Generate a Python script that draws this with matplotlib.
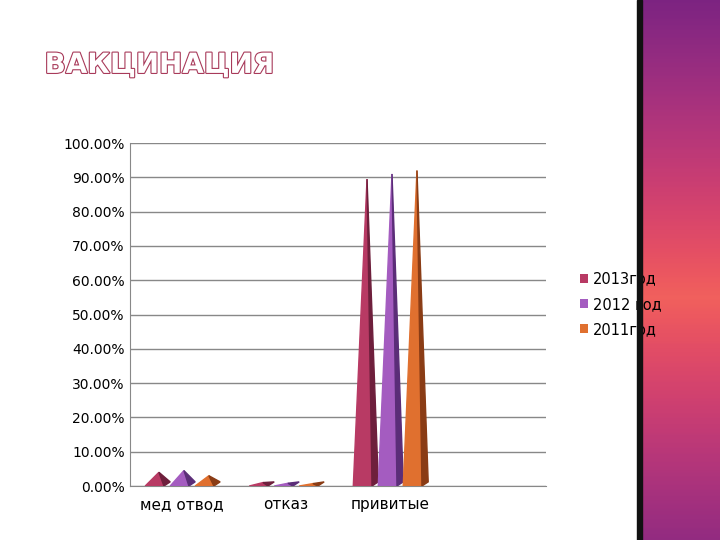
import matplotlib.pyplot as plt
from matplotlib.patches import Polygon, Rectangle
import matplotlib.patheffects as pe
import numpy as np

categories = ['мед отвод', 'отказ', 'привитые']
series = ['2013год', '2012 год', '2011год']
values = {
    '2013год': [4.0, 1.0, 89.5],
    '2012 год': [4.5, 0.8, 91.0],
    '2011год': [3.0, 0.7, 92.0],
}
colors = ['#b83a64', '#a45cc0', '#e0702f']
dark = ['#6e1f3c', '#5b2d78', '#8a3c15']

fig = plt.figure(figsize=(7.2, 5.4), dpi=100)
fig.patch.set_facecolor('white')
# purple side strip with a vertical gradient
grad = np.linspace(0, 1, 256).reshape(-1, 1)
sax = fig.add_axes([0.892, 0, 0.108, 1])
sax.imshow(np.abs(grad - 0.55), aspect='auto', cmap='magma_r', vmin=-0.6, vmax=1.2)
sax.axis('off')
fig.add_artist(Rectangle((0.885, 0), 0.007, 1, transform=fig.transFigure,
                         color='#111111'))
fig.text(0.062, 0.865, 'ВАКЦИНАЦИЯ', fontsize=20, fontweight='bold',
         color='white', family='DejaVu Sans',
         path_effects=[pe.withStroke(linewidth=1.6, foreground='#a83a5a')])

ax = fig.add_axes([0.18, 0.1, 0.578, 0.635])
ax.set_xlim(0, 4)
ax.set_ylim(0, 100)
ax.set_yticks(range(0, 101, 10))
ax.set_yticklabels([f'{v:.2f}%' for v in range(0, 101, 10)], fontsize=10)
ax.yaxis.grid(True, color='#888888', lw=1)
ax.set_axisbelow(True)
ax.set_xticks([0.5, 1.5, 2.5])
ax.set_xticklabels(categories, fontsize=11)
ax.tick_params(axis='x', length=0, pad=8)
ax.tick_params(axis='y', length=0)
for s in ['top', 'right']:
    ax.spines[s].set_visible(False)
ax.spines['left'].set_color('#888888')
ax.spines['bottom'].set_color('#888888')

w = 0.24
for ci in range(len(categories)):
    for si, name in enumerate(series):
        v = values[name][ci]
        x0 = ci + 0.15 + si * w
        tip = x0 + w * 0.55
        ax.add_patch(Polygon([(x0, 0), (tip, v), (x0 + w * 0.75, 0)],
                             closed=True, color=colors[si], zorder=3))
        ax.add_patch(Polygon([(x0 + w * 0.75, 0), (tip, v), (x0 + w, 1.2)],
                             closed=True, color=dark[si], zorder=3))
        ax.bar(0, 0, color=colors[si], label=name)

h, l = ax.get_legend_handles_labels()
ax.legend(h[:3], l[:3], loc='center left', bbox_to_anchor=(1.05, 0.53),
          frameon=False, fontsize=10.5, handlelength=0.6, handleheight=0.6,
          handletextpad=0.3, labelspacing=0.7)

fig.savefig('out.png', dpi=100)
